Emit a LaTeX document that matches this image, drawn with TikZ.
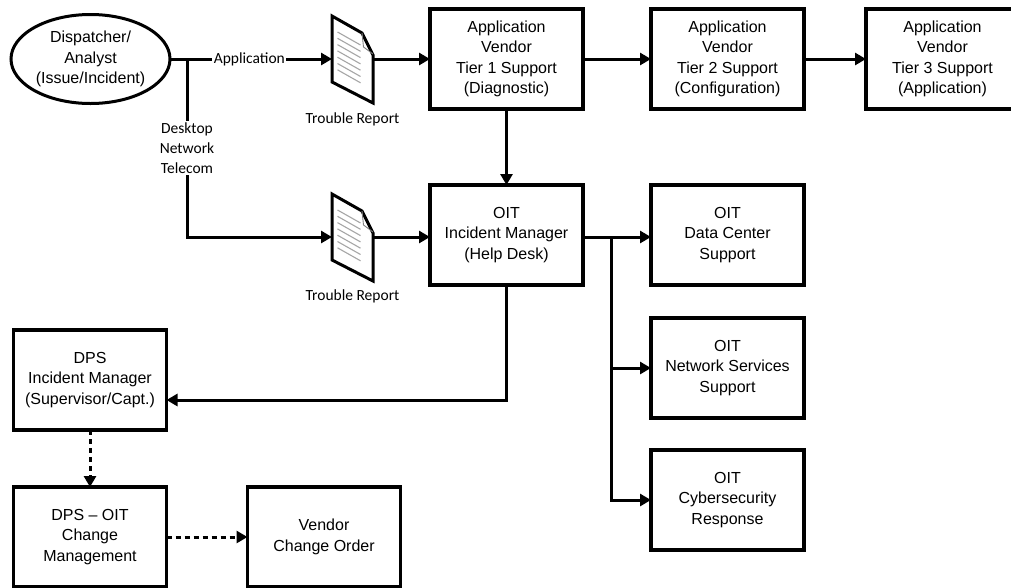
\documentclass[tikz,border=0pt]{standalone}
\usepackage{fontspec}
\setmainfont{Liberation Sans}
\newfontfamily\calfont{Carlito}
\usetikzlibrary{arrows.meta,positioning,shapes.geometric}

\begin{document}
\begin{tikzpicture}[x=1pt,y=-1pt,>={Triangle[length=11pt,width=12pt]},
                    line width=3pt,font=\fontsize{16}{20.5}\selectfont]
  \tikzstyle{box}=[rectangle,draw,line width=3.4pt,minimum width=153pt,
                   minimum height=100pt,inner sep=0pt,outer sep=0pt,align=center]
  \tikzstyle{doc}=[rectangle,minimum width=41pt,minimum height=88pt,inner sep=0pt,outer sep=0pt]
  \tikzstyle{lbl}=[fill=white,inner sep=1.5pt,align=center,
                   font=\calfont\fontsize{15.5}{20}\selectfont]
  \tikzstyle{caption}=[inner sep=0pt,font=\calfont\fontsize{15.5}{20}\selectfont]
  \tikzstyle{flow}=[->]
  \tikzstyle{change}=[->,dash pattern=on 5pt off 4pt]

  \useasboundingbox (0,0) rectangle (1011,587);
  \clip (0,0) rectangle (1011,587);

  \node[ellipse,draw,minimum width=159pt,minimum height=89pt,inner sep=0pt,
        outer sep=0pt,align=center] (disp) at (90.5,59) {Dispatcher/\\Analyst\\(Issue/Incident)};

  \node[doc] (tr1) at (352.5,59) {};
  \node[doc] (tr2) at (352.5,237) {};
  \node[caption] (cap1) at (352.5,119) {Trouble Report};
  \node[caption] (cap2) at (352.5,296) {Trouble Report};

  \node[box] (t1) at (506.5,59)       {Application\\Vendor\\Tier 1 Support\\(Diagnostic)};
  \node[box] (t2) [right=68pt of t1] {Application\\Vendor\\Tier 2 Support\\(Configuration)};
  \node[box] (t3) [right=62pt of t2] {Application\\Vendor\\Tier 3 Support\\(Application)};
  \node[box] (im) [below=76pt of t1] {OIT\\Incident Manager\\(Help Desk)};
  \node[box] (dc) [right=68pt of im] {OIT\\Data Center\\Support};
  \node[box] (ns) [below=33pt of dc] {OIT\\Network Services\\Support};
  \node[box] (cy) [below=32pt of ns] {OIT\\Cybersecurity\\Response};
  \node[box] (dps) at (90,380)        {DPS\\Incident Manager\\(Supervisor/Capt.)};
  \node[box] (cm) [below=57pt of dps] {DPS -- OIT\\Change\\Management};
  \node[box] (vco) [right=81pt of cm] {Vendor\\Change Order};

  % trouble report pages
  \foreach \d in {tr1,tr2} {
    \draw[line width=3pt,line join=miter,fill=white]
      ([shift={(-20.5,-43)}]\d.center) -- ([shift={(9.5,-26)}]\d.center)
      -- ([shift={(20.5,-4)}]\d.center) -- ([shift={(20.5,44)}]\d.center)
      -- ([shift={(-20.5,23)}]\d.center) -- cycle;
    \draw[gray,line width=0.9pt] ([shift={(9.5,-26)}]\d.center)
      -- ([shift={(11,-12)}]\d.center) -- ([shift={(20.5,-5)}]\d.center);
    \foreach \k in {0,...,6}
      \draw[gray!70,line width=1.1pt] ([shift={(-15,-27+6.3*\k)}]\d.center)
        -- ([shift={(8,-14+6.3*\k)}]\d.center);
  }

  \coordinate (split) at (187,59);
  \coordinate (fork) at (611,237);

  \draw (disp.east) -- (split);
  \draw[flow] (split) -- node[lbl,pos=0.43] {Application} (tr1.west);
  \draw[flow] (split) -- node[lbl] {Desktop\\Network\\Telecom} (split |- tr2.west) -- (tr2.west);
  \draw[flow] (tr1.east) -- (t1.west);
  \draw[flow] (tr2.east) -- (tr2.east -| im.west);
  \draw[flow] (t1) -- (t2);
  \draw[flow] (t2) -- (t3);
  \draw[flow] (t1) -- (im);
  \draw (im.east |- fork) -- (fork);
  \draw[flow] (fork) -- (fork -| dc.west);
  \draw[flow] (fork) |- (ns.west);
  \draw[flow] (fork) |- (cy.west);
  \draw[flow] (im.south) |- ([yshift=-20pt]dps.east);
  \draw[change] (dps) -- (cm);
  \draw[change] (cm) -- (vco);

\end{tikzpicture}
\end{document}
